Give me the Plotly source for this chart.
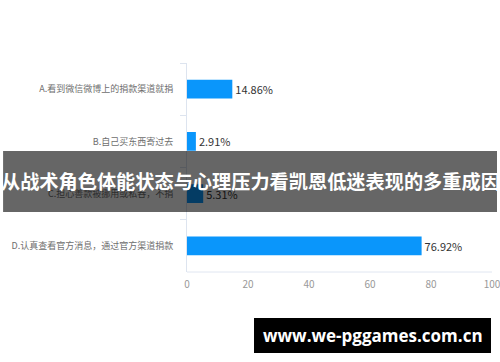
import plotly.graph_objects as go

categories = [
    "A.看到微信微博上的捐款渠道就捐",
    "B.自己买东西寄过去",
    "C.担心善款被挪用或私吞，不捐",
    "D.认真查看官方消息，通过官方渠道捐款",
]
values = [14.86, 2.91, 5.31, 76.92]
x_ticks = [0, 20, 40, 60, 80, 100]

title_text = "从战术角色体能状态与心理压力看凯恩低迷表现的多重成因"
watermark = "www.we-pggames.com.cn"

FONT = "Noto Sans CJK SC"

fig = go.Figure(
    go.Bar(
        x=values,
        y=categories,
        orientation="h",
        marker=dict(color="#0a96fb", line=dict(width=0)),
        text=[f"{v}%" for v in values],
        textposition="outside",
        textfont=dict(family=FONT, size=11, color="#333333"),
        cliponaxis=False,
        width=0.36,
    )
)

fig.update_layout(
    width=500,
    height=362,
    margin=dict(l=187, r=8, t=63, b=90),
    paper_bgcolor="white",
    plot_bgcolor="white",
    showlegend=False,
    font=dict(family=FONT),
    xaxis=dict(
        range=[0, 100],
        tickvals=x_ticks,
        showgrid=False,
        zeroline=False,
        showline=False,
        ticks="",
        automargin=False,
        ticklabeloverflow="allow",
        ticklabelstandoff=5,
        tickfont=dict(family=FONT, size=10, color="#999999"),
    ),
    yaxis=dict(
        autorange="reversed",
        showline=True,
        linecolor="#dde4ef",
        linewidth=1,
        ticks="outside",
        tickson="boundaries",
        ticklen=6,
        tickcolor="#dde4ef",
        showgrid=False,
        automargin=False,
        tickfont=dict(family=FONT, size=9, color="#6e6e6e"),
        ticklabelstandoff=11,
    ),
    shapes=[
        # bottom axis line
        dict(type="line", xref="paper", yref="paper", x0=0, x1=1, y0=0, y1=0,
             line=dict(color="#e0e6f1", width=1), layer="below"),
        # dark translucent band
        dict(type="rect", xref="paper", yref="paper",
             x0=-0.603, x1=1.0164, y0=0.287, y1=0.579,
             fillcolor="rgba(0,0,0,0.6)", line=dict(width=0), layer="above"),
        # watermark box
        dict(type="rect", xref="paper", yref="paper",
             x0=0.2197, x1=0.9967, y0=-0.3876, y1=-0.220,
             fillcolor="black", line=dict(width=0), layer="above"),
    ],
    annotations=[
        dict(text=f"<b>{title_text}</b>", xref="paper", yref="paper",
             x=0.2066, y=0.4354, showarrow=False, xanchor="center", yanchor="middle",
             font=dict(family=FONT, size=19.2, color="white")),
        dict(text=f"<b>{watermark}</b>", xref="paper", yref="paper",
             x=0.6082, y=-0.3038, showarrow=False, xanchor="center", yanchor="middle",
             font=dict(family="Open Sans", size=17, color="white")),
    ],
)

fig.write_html("out.html")
